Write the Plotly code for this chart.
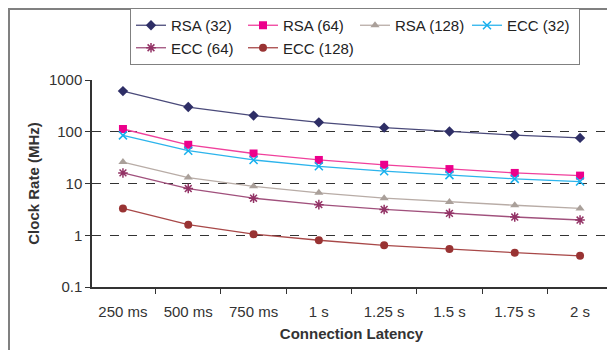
import plotly.graph_objects as go

categories = ["250 ms", "500 ms", "750 ms", "1 s", "1.25 s", "1.5 s", "1.75 s", "2 s"]
rsa32 = [610, 300, 205, 152, 120, 101, 86, 76]
rsa64 = [113, 56, 38, 28.5, 23, 19, 16, 14.2]
rsa128 = [26, 13, 8.8, 6.6, 5.2, 4.4, 3.8, 3.3]
ecc32 = [85, 43, 28.5, 21.5, 17.3, 14.5, 12.3, 10.9]
ecc64 = [16, 8, 5.2, 3.9, 3.15, 2.65, 2.25, 1.97]
ecc128 = [3.3, 1.6, 1.05, 0.8, 0.64, 0.54, 0.46, 0.4]
y_ticks = [0.1, 1, 10, 100, 1000]
y_tick_text = ["0.1", "1", "10", "100", "1000"]

series = [
    ("RSA (32)", rsa32, "#4a4a7a", "#2e2e66", "diamond", 8),
    ("RSA (64)", rsa64, "#f0409c", "#ec008c", "square", 8),
    ("RSA (128)", rsa128, "#b8aca6", "#aaa09a", "triangle-up", 8),
    ("ECC (32)", ecc32, "#2cb4ec", "#16b0ee", "x-thin-open", 8),
    ("ECC (64)", ecc64, "#a0507c", "#933366", "asterisk-open", 8),
    ("ECC (128)", ecc128, "#a84848", "#993333", "circle", 8),
]

fig = go.Figure()
for name, vals, lc, mc, sym, sz in series:
    open_sym = sym.endswith("open")
    fig.add_trace(go.Scatter(
        x=categories, y=vals, name=name, mode="lines+markers",
        line=dict(color=lc, width=1.3),
        marker=dict(symbol=sym, size=sz, color=mc,
                    line=dict(color=mc, width=1.5 if open_sym else 0)),
    ))

# page offset (default body margin) and figure geometry
OFF = 8
FW, FH = 615 - OFF, 358 - 2 * OFF
L, R, T = 92 - OFF, 4, 80 - OFF
B = FH - (287 - OFF)
W, H = FW - L - R, FH - T - B

def px(x):
    return (x - OFF - L) / W

def py(y):
    return (FH - B - (y - OFF)) / H

fig.add_shape(type="line", xref="paper", yref="paper", x0=1, x1=1, y0=0, y1=1,
              line=dict(color="#333333", width=1.5))
fig.add_shape(type="rect", xref="paper", yref="paper",
              x0=px(9), x1=px(660), y0=py(9), y1=py(400),
              line=dict(color="#808080", width=2), layer="below")

fig.update_layout(
    width=FW, height=FH,
    margin=dict(l=L, r=R, t=T, b=B, autoexpand=False),
    paper_bgcolor="white", plot_bgcolor="white",
    font=dict(family="Liberation Sans, Arial, sans-serif", size=15, color="#333333"),
    showlegend=True,
    legend=dict(
        orientation="h", x=px(130), y=py(8), xanchor="left", yanchor="top",
        bordercolor="#808080", borderwidth=1, bgcolor="white",
        entrywidth=67, entrywidthmode="pixels", itemwidth=30,
        font=dict(size=15, color="#222222"), tracegroupgap=0,
    ),
    xaxis=dict(
        type="category", tickson="boundaries", ticks="outside", ticklen=5,
        tickcolor="#333333", showline=True, linecolor="#333333", linewidth=1.5,
        showgrid=False, ticklabelstandoff=10,
        title=dict(text="<b>Connection Latency</b>", standoff=10,
                   font=dict(size=15, color="#333333")),
    ),
    yaxis=dict(
        type="log", range=[-1, 3], tickvals=y_ticks, ticktext=y_tick_text,
        ticks="outside", ticklen=5, tickcolor="#333333",
        showline=True, linecolor="#333333", linewidth=1.5,
        showgrid=True, gridcolor="#333333", griddash="dash", gridwidth=1,
        zeroline=False,
        title=dict(text="<b>Clock Rate (MHz)</b>", standoff=6,
                   font=dict(size=15, color="#333333")),
    ),
)

fig.write_html("out.html")
